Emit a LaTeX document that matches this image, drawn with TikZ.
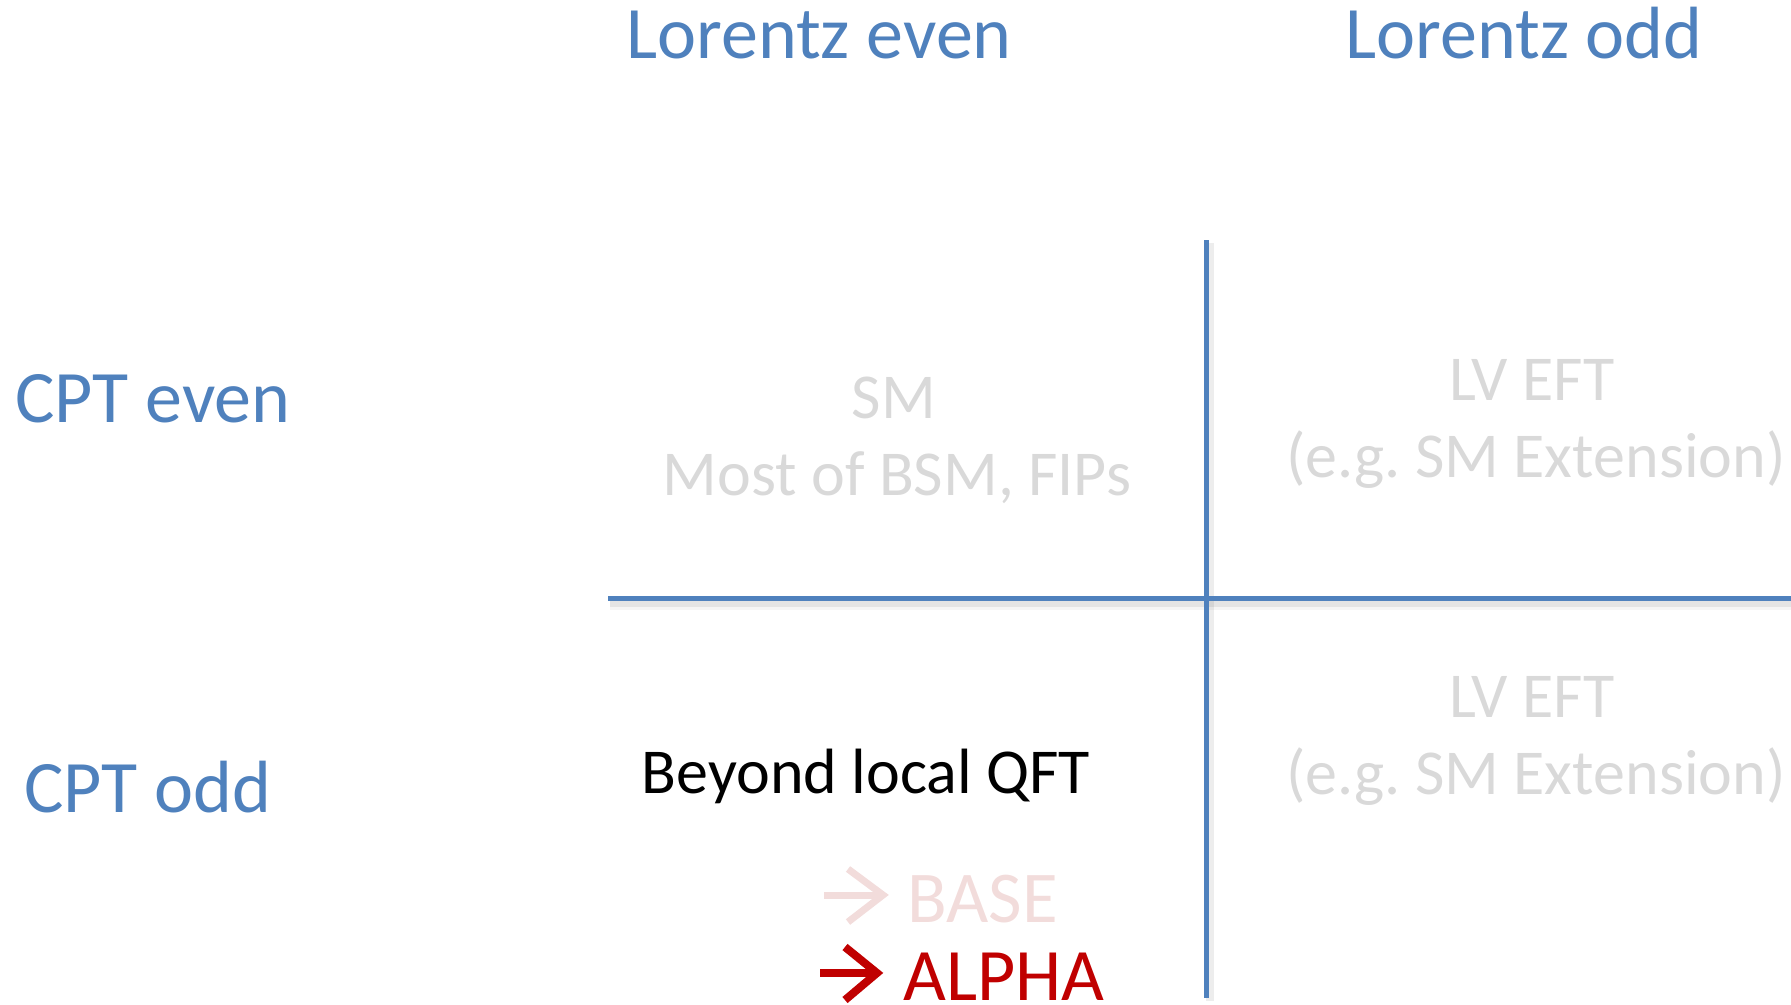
\documentclass[tikz,border=0pt]{standalone}
\usepackage{fontspec}
\setmainfont{Carlito}
\usetikzlibrary{calc}
\definecolor{axisblue}{HTML}{4F81BD}
\definecolor{fadedgray}{HTML}{D9D9D9}
\definecolor{fadedpink}{HTML}{F2DCDB}
\definecolor{alphared}{HTML}{C00000}
\tikzset{
  head/.style={anchor=base, inner sep=0pt, text=axisblue, font=\fontsize{74}{88}\selectfont},
  cell/.style={anchor=base, inner sep=0pt, text=fadedgray, font=\fontsize{64}{77}\selectfont},
  axis/.style={draw=axisblue, line width=5.5pt, line cap=butt},
  axisshadow/.style={draw=black, line width=8pt, opacity=0.07, line cap=butt},
  pointer/.style={line width=7pt, line cap=butt, line join=miter},
}
\begin{document}
\frenchspacing
\begin{tikzpicture}[x=1pt, y=-1pt]
\useasboundingbox (0,0) rectangle (1791,1004);

% column and row headings
\node[head] (leven) at (819,58) {Lorentz even};
\node[head] (lodd)  at (1524,58) {Lorentz odd};
\node[head] (ceven) at (153,422) {CPT even};
\node[head] (codd)  at (148,812) {CPT odd};

% axes of the table, with a soft drop shadow
\coordinate (hl) at (608,598.5);
\coordinate (hr) at (1791,598.5);
\coordinate (vt) at (1206.5,240);
\coordinate (vb) at (1206.5,998);
\draw[axisshadow] ($(hl)+(2,4)$) -- ($(hr)+(2,4)$);
\draw[axisshadow, line width=12pt, opacity=0.04] ($(hl)+(2,5)$) -- ($(hr)+(2,5)$);
\draw[axisshadow] ($(vt)+(3,3)$) -- ($(vb)+(3,3)$);
\draw[axis] (hl) -- (hr);
\draw[axis, line width=5pt] (vt) -- (vb);

% quadrant contents
\node[cell] (sm)   at (894,418) {SM};
\node[cell] (bsm)  at (897,495) {Most of BSM, FIPs};
\node[cell] (lva)  at (1532,400) {LV EFT};
\node[cell] (sma)  at (1536,477) {(e.g. SM Extension)};
\node[cell] (lvb)  at (1532,717) {LV EFT};
\node[cell] (smb)  at (1536,794) {(e.g. SM Extension)};
\node[cell, text=black] (qft) at (866,793) {Beyond local QFT};

% experiments
\node[anchor=base west, inner sep=0pt, text=fadedpink, font=\fontsize{73}{86}\selectfont] (base) at (907,922) {BASE};
\node[anchor=base west, inner sep=0pt, text=alphared, font=\fontsize{74}{86}\selectfont] (alpha) at (903,1000) {ALPHA};

% arrow marks in front of the experiment names
\draw[pointer, fadedpink] ($(base.base west)+(-83,-27)$) -- ($(base.base west)+(-25,-27)$);
\draw[pointer, fadedpink] ($(base.base west)+(-59,-53)$) -- ($(base.base west)+(-24,-27)$) -- ($(base.base west)+(-59,0)$);
\draw[pointer, alphared, line width=8pt] ($(alpha.base west)+(-83,-27)$) -- ($(alpha.base west)+(-28,-27)$);
\draw[pointer, alphared, line width=8pt] ($(alpha.base west)+(-58,-53)$) -- ($(alpha.base west)+(-26,-27)$) -- ($(alpha.base west)+(-58,0)$);
\end{tikzpicture}
\end{document}
